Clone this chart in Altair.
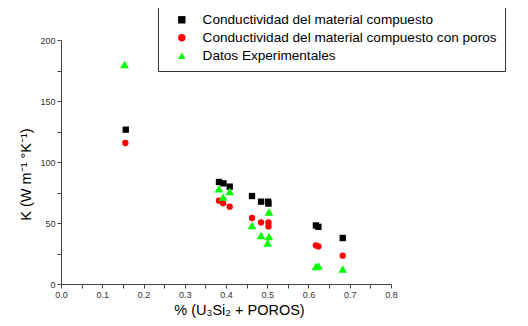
import altair as alt
import pandas as pd

series_names = [
    "Conductividad del material compuesto",
    "Conductividad del material compuesto con poros",
    "Datos Experimentales",
]

x_comp = [0.157, 0.383, 0.394, 0.409, 0.463, 0.485, 0.502, 0.503, 0.618, 0.624, 0.683]
y_comp = [126.5, 83.6, 82.5, 79.8, 72.1, 67.5, 67.5, 65.9, 48.0, 46.9, 37.7]

x_poros = [0.156, 0.383, 0.393, 0.409, 0.463, 0.485, 0.503, 0.503, 0.618, 0.624, 0.683]
y_poros = [115.6, 68.3, 66.1, 63.4, 54.1, 50.5, 50.5, 47.2, 31.6, 30.8, 23.2]

x_exp = [0.154, 0.383, 0.393, 0.409, 0.463, 0.485, 0.504, 0.504, 0.501, 0.618, 0.624, 0.683]
y_exp = [180.0, 78.1, 71.3, 75.9, 48.0, 39.8, 59.0, 39.0, 33.6, 14.4, 14.8, 12.3]

x_ticks = [0.0, 0.05, 0.1, 0.15, 0.2, 0.25, 0.3, 0.35, 0.4, 0.45, 0.5, 0.55, 0.6, 0.65, 0.7, 0.75, 0.8]
y_ticks = [0, 25, 50, 75, 100, 125, 150, 175, 200]

rows = []
for name, xs, ys in [
    (series_names[0], x_comp, y_comp),
    (series_names[1], x_poros, y_poros),
    (series_names[2], x_exp, y_exp),
]:
    for xv, yv in zip(xs, ys):
        rows.append({"serie": name, "x": xv, "y": yv})
df = pd.DataFrame(rows)

FONT = "Liberation Sans"

x_axis = alt.Axis(
    values=x_ticks,
    labelExpr="(round(datum.value*100) % 10 == 0) ? format(datum.value, '.1f') : ''",
    labelOverlap=False,
    labelFlush=False,
    grid=False,
    tickSize=4,
    tickColor="#444",
    domainColor="#444",
    labelColor="#333",
    labelFont=FONT,
    labelFontSize=9,
    labelPadding=2,
    title="% (U₃Si₂ + POROS)",
    titleFont=FONT,
    titleFontSize=14.5,
    titleFontWeight="normal",
    titleColor="#000",
    titlePadding=4,
    titleX=178,
)
y_axis = alt.Axis(
    values=y_ticks,
    labelExpr="(datum.value % 50 == 0) ? format(datum.value, 'd') : ''",
    labelOverlap=False,
    labelFlush=False,
    grid=False,
    tickSize=4,
    tickColor="#444",
    domainColor="#444",
    labelColor="#333",
    labelFont=FONT,
    labelFontSize=9,
    labelPadding=2,
    title="K (W m⁻¹ °K⁻¹)",
    titleFont=FONT,
    titleFontSize=14.5,
    titleFontWeight="normal",
    titleColor="#000",
    titlePadding=6,
    titleY=134,
)

legend = alt.Legend(
    title=None,
    orient="none",
    legendX=97,
    legendY=-35,
    strokeColor="#333",
    fillColor="#ffffff",
    padding=8,
    symbolOffset=9,
    symbolSize=55,
    labelFont=FONT,
    labelFontSize=13.6,
    labelColor="#000",
    labelOffset=14,
    labelLimit=500,
    rowPadding=3,
    labelExpr="datum.label + '\u00a0\u00a0\u00a0\u00a0\u00a0\u00a0\u00a0\u00a0\u00a0\u00a0\u00a0\u00a0\u00a0'",
)

chart = (
    alt.Chart(df)
    .mark_point(filled=True, opacity=1)
    .encode(
        x=alt.X("x:Q", scale=alt.Scale(domain=[0, 0.8], nice=False, zero=False), axis=x_axis),
        y=alt.Y("y:Q", scale=alt.Scale(domain=[0, 200], nice=False), axis=y_axis),
        color=alt.Color(
            "serie:N",
            scale=alt.Scale(domain=series_names, range=["#000000", "#ff0000", "#00ff00"]),
            legend=legend,
        ),
        shape=alt.Shape(
            "serie:N",
            scale=alt.Scale(domain=series_names, range=["square", "circle", "triangle-up"]),
            legend=legend,
        ),
        size=alt.condition(
            alt.datum.serie == series_names[2], alt.value(75), alt.value(40)
        ),
    )
    .properties(
        width=330,
        height=244,
        autosize=alt.AutoSizeParams(type="none"),
        padding={"left": 53, "top": 32, "right": 129, "bottom": 42},
    )
    .configure_view(stroke=None)
)

chart.save("out.html", embed_options={"renderer": "svg", "actions": False})
